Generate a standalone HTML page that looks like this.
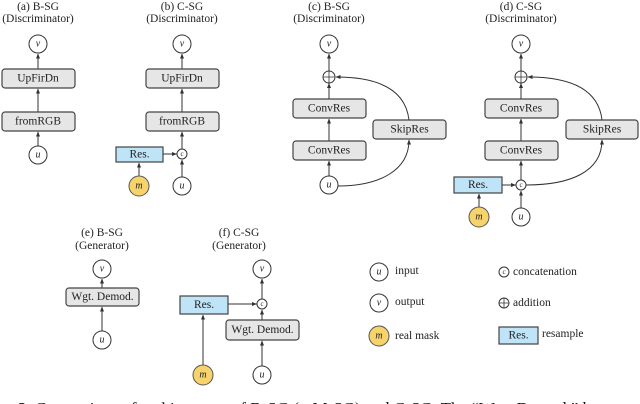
<!DOCTYPE html>
<html><head><meta charset="utf-8"><style>
html,body{margin:0;padding:0;background:#fff;overflow:hidden}
svg{display:block}
text{font-family:"Liberation Serif",serif;fill:#222}
.t{font-size:11.5px;text-anchor:middle}
.b{fill:#e6e6e6;stroke:#444;stroke-width:1.2}
.r{fill:#bfe3f7;stroke:#444;stroke-width:1.2}
.c{fill:#fff;stroke:#333;stroke-width:1}
.m{fill:#f7d36b;stroke:#555;stroke-width:1}
.l{stroke:#333;stroke-width:1;fill:none;marker-end:url(#a)}
.bt{font-size:11.5px;text-anchor:middle;dominant-baseline:central}
.it{font-size:10px;font-style:italic;text-anchor:middle;dominant-baseline:central}
.lg{font-size:11.5px;dominant-baseline:central}
</style></head><body>
<svg width="640" height="404" viewBox="0 0 640 404">
<defs><marker id="a" markerWidth="5" markerHeight="5" refX="4.5" refY="2.5" orient="auto"><path d="M0,0.5 L5,2.5 L0,4.5z" fill="#333"/></marker></defs>

<!-- (a) -->
<text class="t" x="38" y="10">(a) B-SG</text><text class="t" x="38" y="22">(Discriminator)</text>
<circle class="c" cx="38" cy="44" r="9"/><text class="it" x="38" y="44">v</text>
<line class="l" x1="38" y1="69" x2="38" y2="54"/>
<rect class="b" x="2" y="69" width="73" height="19" rx="3"/><text class="bt" x="38" y="78.5">UpFirDn</text>
<line class="l" x1="38" y1="112" x2="38" y2="89"/>
<rect class="b" x="2" y="112" width="73" height="19" rx="3"/><text class="bt" x="38" y="121.5">fromRGB</text>
<line class="l" x1="38" y1="146" x2="38" y2="132"/>
<circle class="c" cx="38" cy="155" r="9"/><text class="it" x="38" y="155">u</text>

<!-- (b) -->
<text class="t" x="182" y="10">(b) C-SG</text><text class="t" x="182" y="22">(Discriminator)</text>
<circle class="c" cx="182" cy="44" r="9"/><text class="it" x="182" y="44">v</text>
<line class="l" x1="182" y1="69" x2="182" y2="54"/>
<rect class="b" x="146" y="69" width="73" height="19" rx="3"/><text class="bt" x="182" y="78.5">UpFirDn</text>
<line class="l" x1="182" y1="112" x2="182" y2="89"/>
<rect class="b" x="146" y="112" width="73" height="19" rx="3"/><text class="bt" x="182" y="121.5">fromRGB</text>
<line class="l" x1="182" y1="149" x2="182" y2="132"/>
<circle class="c" cx="182" cy="154" r="5"/><text x="182" y="154" style="font-size:7px;text-anchor:middle;dominant-baseline:central">c</text>
<rect class="r" x="116" y="147" width="47" height="15"/><text class="bt" x="139.5" y="154.5">Res.</text>
<line class="l" x1="163" y1="154" x2="176.5" y2="154"/>
<line class="l" x1="139" y1="176" x2="139" y2="163"/>
<circle class="m" cx="139" cy="186" r="10"/><text class="it" x="139" y="186">m</text>
<line class="l" x1="182" y1="177" x2="182" y2="160"/>
<circle class="c" cx="182" cy="186" r="9"/><text class="it" x="182" y="186">u</text>

<!-- (c) -->
<text class="t" x="329" y="10">(c) B-SG</text><text class="t" x="329" y="22">(Discriminator)</text>
<circle class="c" cx="329" cy="44" r="9"/><text class="it" x="329" y="44">v</text>
<line class="l" x1="329" y1="71" x2="329" y2="54"/>
<circle class="c" cx="329" cy="77" r="6"/><path d="M323,77h12M329,71v12" stroke="#333" stroke-width="0.8"/>
<line class="l" x1="329" y1="99" x2="329" y2="83.5"/>
<rect class="b" x="293" y="99" width="73" height="19" rx="3"/><text class="bt" x="329" y="108.5">ConvRes</text>
<line class="l" x1="329" y1="141" x2="329" y2="119"/>
<rect class="b" x="293" y="141" width="73" height="19" rx="3"/><text class="bt" x="329" y="150.5">ConvRes</text>
<line class="l" x1="329" y1="176" x2="329" y2="161"/>
<circle class="c" cx="329" cy="185" r="9"/><text class="it" x="329" y="185">u</text>
<rect class="b" x="373" y="120" width="73" height="19" rx="3"/><text class="bt" x="409.5" y="129.5">SkipRes</text>
<path class="l" d="M409,120 C405,85 370,77 336,77"/>
<path class="l" d="M338,186 C380,186 409,170 409,140"/>

<!-- (d) -->
<text class="t" x="521" y="10">(d) C-SG</text><text class="t" x="521" y="22">(Discriminator)</text>
<circle class="c" cx="521" cy="44" r="9"/><text class="it" x="521" y="44">v</text>
<line class="l" x1="521" y1="71" x2="521" y2="54"/>
<circle class="c" cx="521" cy="77" r="6"/><path d="M515,77h12M521,71v12" stroke="#333" stroke-width="0.8"/>
<line class="l" x1="521" y1="99" x2="521" y2="83.5"/>
<rect class="b" x="485" y="99" width="73" height="19" rx="3"/><text class="bt" x="521" y="108.5">ConvRes</text>
<line class="l" x1="521" y1="141" x2="521" y2="119"/>
<rect class="b" x="485" y="141" width="73" height="19" rx="3"/><text class="bt" x="521" y="150.5">ConvRes</text>
<line class="l" x1="521" y1="180" x2="521" y2="161"/>
<circle class="c" cx="521" cy="185" r="5"/><text x="521" y="185" style="font-size:7px;text-anchor:middle;dominant-baseline:central">c</text>
<rect class="b" x="566" y="120" width="72" height="19" rx="3"/><text class="bt" x="602" y="129.5">SkipRes</text>
<path class="l" d="M602,120 C598,85 562,77 528,77"/>
<path class="l" d="M526,185 C570,185 602,172 602,140"/>
<rect class="r" x="454" y="177" width="48" height="16"/><text class="bt" x="478" y="185">Res.</text>
<line class="l" x1="502" y1="185" x2="515.5" y2="185"/>
<line class="l" x1="479" y1="207" x2="479" y2="194"/>
<circle class="m" cx="479" cy="217" r="10"/><text class="it" x="479" y="217">m</text>
<line class="l" x1="521" y1="208" x2="521" y2="191"/>
<circle class="c" cx="521" cy="217" r="9"/><text class="it" x="521" y="217">u</text>

<!-- (e) -->
<text class="t" x="102" y="236">(e) B-SG</text><text class="t" x="102" y="249">(Generator)</text>
<circle class="c" cx="102" cy="269" r="9"/><text class="it" x="102" y="269">v</text>
<line class="l" x1="102" y1="288" x2="102" y2="279"/>
<rect class="b" x="66" y="288" width="73" height="18" rx="3"/><text class="bt" x="102.5" y="297">Wgt. Demod.</text>
<line class="l" x1="102" y1="331" x2="102" y2="307"/>
<circle class="c" cx="102" cy="340" r="9"/><text class="it" x="102" y="340">u</text>

<!-- (f) -->
<text class="t" x="239" y="236">(f) C-SG</text><text class="t" x="239" y="249">(Generator)</text>
<circle class="c" cx="262" cy="269" r="9"/><text class="it" x="262" y="269">v</text>
<line class="l" x1="262" y1="299" x2="262" y2="279"/>
<circle class="c" cx="262" cy="304" r="5"/><text x="262" y="304" style="font-size:7px;text-anchor:middle;dominant-baseline:central">c</text>
<rect class="r" x="180" y="296" width="48" height="18"/><text class="bt" x="204" y="305">Res.</text>
<line class="l" x1="228" y1="304" x2="256.5" y2="304"/>
<line class="l" x1="203" y1="365" x2="203" y2="315"/>
<circle class="m" cx="203" cy="375" r="10"/><text class="it" x="203" y="375">m</text>
<line class="l" x1="262" y1="320" x2="262" y2="310"/>
<rect class="b" x="226" y="320" width="73" height="20" rx="3"/><text class="bt" x="262.5" y="330">Wgt. Demod.</text>
<line class="l" x1="262" y1="366" x2="262" y2="341"/>
<circle class="c" cx="262" cy="375" r="9"/><text class="it" x="262" y="375">u</text>

<!-- legend -->
<circle class="c" cx="379" cy="272" r="9"/><text class="it" x="379" y="272">u</text><text class="lg" x="395" y="271">input</text>
<circle class="c" cx="504" cy="272" r="5"/><text x="504" y="272" style="font-size:7px;text-anchor:middle;dominant-baseline:central">c</text><text class="lg" x="513" y="272">concatenation</text>
<circle class="c" cx="379" cy="303" r="9"/><text class="it" x="379" y="303">v</text><text class="lg" x="395" y="302">output</text>
<circle class="c" cx="504" cy="303" r="5"/><path d="M499,303h10M504,298v10" stroke="#333" stroke-width="0.8"/><text class="lg" x="513" y="303">addition</text>
<circle class="m" cx="379" cy="336" r="10"/><text class="it" x="379" y="336">m</text><text class="lg" x="395" y="336">real mask</text>
<rect class="r" x="499" y="327" width="39" height="17"/><text class="bt" x="518.5" y="335.5">Res.</text><text class="lg" x="542" y="334">resample</text>

<!-- caption -->
<text x="18" y="414" style="font-size:17px;fill:#111"><tspan font-weight="bold">2.</tspan> Comparison of architectures of B-SG (≈ M-SG) and C-SG. The “Wgt. Demod.” b</text>
</svg>
</body></html>
